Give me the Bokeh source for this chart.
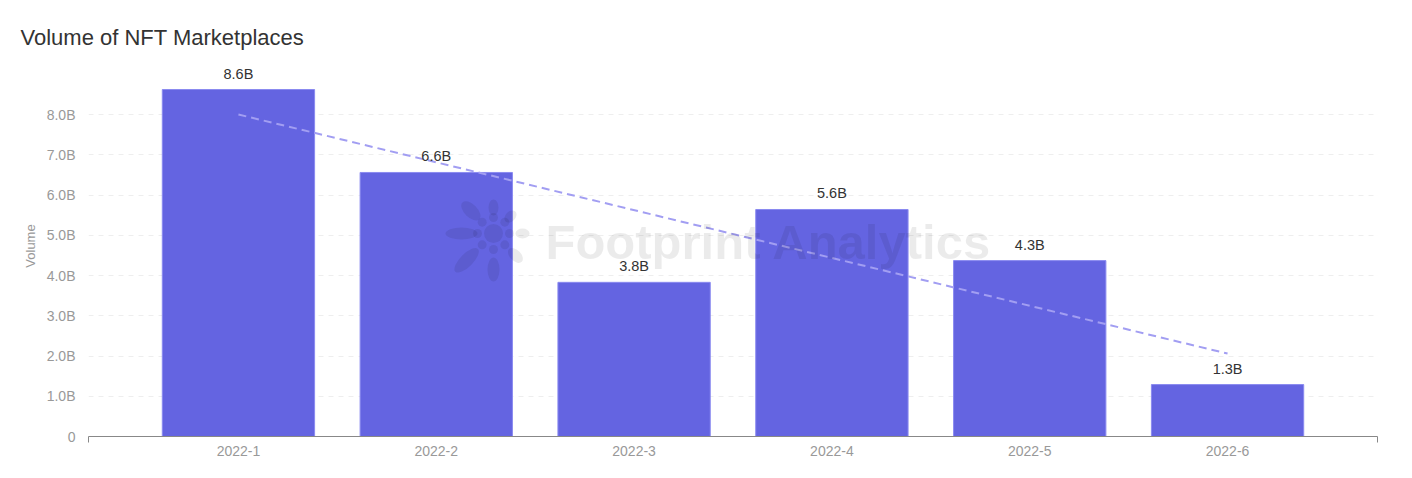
import math
from bokeh.plotting import figure
from bokeh.models import (ColumnDataSource, LabelSet, Label, Range1d, FixedTicker)
from bokeh.core.properties import value
from bokeh.embed import file_html
from bokeh.resources import INLINE

months = ["2022-1", "2022-2", "2022-3", "2022-4", "2022-5", "2022-6"]
volume_b = [8.62, 6.56, 3.83, 5.64, 4.37, 1.29]
value_labels = ["8.6B", "6.6B", "3.8B", "5.6B", "4.3B", "1.3B"]
trend_x = [0, 5]
trend_b = [8.0, 2.06]
y_ticks = [0, 1, 2, 3, 4, 5, 6, 7, 8]
y_tick_labels = ["0", "1.0B", "2.0B", "3.0B", "4.0B", "5.0B", "6.0B", "7.0B", "8.0B"]

xs = list(range(len(months)))
src = ColumnDataSource(dict(x=xs, top=volume_b, label=value_labels))

FONT = "Liberation Sans"
W, H = 1412, 478
L, R, T, B = 88, 35, 55, 42
PX_PER_B = 40.25
X0, X1 = -0.758, 5.758
Y0, Y1 = 0, (H - B - T) / PX_PER_B

p = figure(width=W, height=H, output_backend="svg", toolbar_location=None,
           x_range=Range1d(X0, X1), y_range=Range1d(Y0, Y1),
           min_border_left=L, min_border_right=R, min_border_top=T,
           min_border_bottom=B)
p.outline_line_color = None
p.background_fill_color = "white"
p.border_fill_color = "white"

p.title.text = "Volume of NFT Marketplaces"
p.title.text_font = FONT
p.title.text_font_size = "22px"
p.title.text_font_style = "normal"
p.title.text_color = "#333333"
p.title.align = "left"
p.title.offset = 20 - L
p.title.standoff = 12

p.vbar(x="x", top="top", width=0.77, bottom=0, source=src,
       fill_color="#6464e1", line_color="#8a8af0", line_width=1)

p.line(trend_x, trend_b, line_color="#a29ef2", line_width=2, line_dash="8 5")

labels = LabelSet(x="x", y="top", text="label", source=src, text_align="center",
                  text_baseline="bottom", y_offset=8, text_font=value(FONT),
                  text_font_size="14.5px", text_color="#333333")
p.add_layout(labels)

# watermark (decoration)
fw, fh = W - L - R, H - T - B
def px2x(px):
    return X0 + (px - L) / fw * (X1 - X0)
def py2y(py):
    return Y0 + (H - B - py) / fh * (Y1 - Y0)

cx, cy = 493, 233
petals = [  # angle deg, distance, length, width
    (180, 32, 32, 12), (135, 32, 24, 13), (90, 26, 16, 10), (45, 24, 14, 10),
    (0, 29, 14, 10), (-45, 31, 18, 11), (-90, 36, 24, 12), (-135, 38, 32, 13),
]
ex, ey, ew, eh, ea = [], [], [], [], []
for a, d, ln, wd in petals:
    r = math.radians(a)
    ex.append(px2x(cx + d * math.cos(r)))
    ey.append(py2y(cy - d * math.sin(r)))
    ew.append(ln); eh.append(wd); ea.append(r)
for k in range(8):
    r = math.radians(k * 45)
    ex.append(px2x(cx + 16 * math.cos(r)))
    ey.append(py2y(cy - 16 * math.sin(r)))
    ew.append(9); eh.append(9); ea.append(0)
ex.append(px2x(cx)); ey.append(py2y(cy)); ew.append(19); eh.append(19); ea.append(0)
p.ellipse(x=ex, y=ey, width=ew, height=eh, angle=ea, width_units="screen",
          height_units="screen", fill_color="black", fill_alpha=0.08,
          line_color=None)

wm = Label(x=px2x(545), y=py2y(241), text="Footprint Analytics", text_font=FONT,
           text_font_style="bold", text_font_size="49px", text_color="black",
           text_alpha=0.08, text_align="left", text_baseline="middle")
p.add_layout(wm)

# axes
xa = p.xaxis[0]
xa.ticker = FixedTicker(ticks=xs, minor_ticks=[X0, X1])
xa.major_label_overrides = {i: m for i, m in enumerate(months)}
xa.major_tick_line_color = None
xa.major_tick_out = 0
xa.minor_tick_out = 6
xa.minor_tick_in = 0
xa.minor_tick_line_color = "#888888"
xa.axis_line_color = "#888888"
xa.major_label_standoff = 3
xa.major_label_text_font = FONT
xa.major_label_text_font_size = "14px"
xa.major_label_text_color = "#999999"

ya = p.yaxis[0]
ya.ticker = FixedTicker(ticks=y_ticks)
ya.major_label_overrides = {t: l for t, l in zip(y_ticks, y_tick_labels)}
ya.axis_line_color = None
ya.major_tick_line_color = None
ya.minor_tick_line_color = None
ya.major_tick_out = 0
ya.major_label_standoff = 13
ya.major_label_text_font = FONT
ya.major_label_text_font_size = "14px"
ya.major_label_text_color = "#999999"
ya.axis_label = "Volume"
ya.axis_label_text_font = FONT
ya.axis_label_text_font_size = "13px"
ya.axis_label_text_font_style = "normal"
ya.axis_label_text_color = "#999999"
ya.axis_label_standoff = 6

p.xgrid.grid_line_color = None
p.ygrid.grid_line_color = "#eeeeee"
p.ygrid.grid_line_dash = "5 5"
p.ygrid.ticker = FixedTicker(ticks=y_ticks[1:])

open("out.html", "w").write(file_html(p, INLINE))
